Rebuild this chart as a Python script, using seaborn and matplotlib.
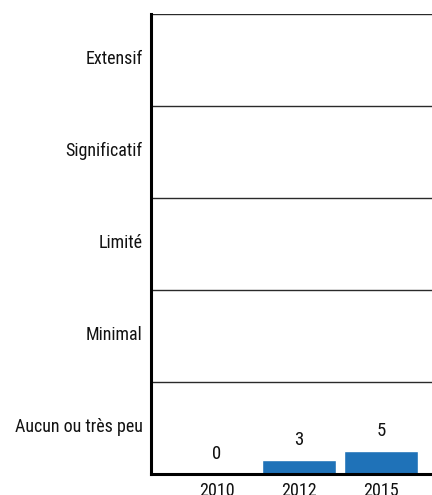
import matplotlib
matplotlib.use("Agg")
import matplotlib.pyplot as plt
import matplotlib.transforms as mtrans
from matplotlib import font_manager as fm
import seaborn as sns
import pandas as pd

# ── Data ──────────────────────────────────────────
years  = ["2010", "2012", "2015"]
values = [0, 3, 5]
levels = ["Aucun ou très peu", "Minimal", "Limité", "Significatif", "Extensif"]
level_centers = [10, 30, 50, 70, 90]
level_bounds  = [20, 40, 60, 80, 100]

df = pd.DataFrame({"year": years, "value": values})

sns.set_style("white")
plt.rcParams["font.family"] = ["DejaVu Sans"]

# ── Pick a condensed face if one is installed ─────
def find_condensed():
    prefs = ["RobotoCondensed-Regular", "LiberationSansNarrow-Regular",
             "DejaVuSansCondensed.ttf", "Condensed-Regular", "Narrow-Regular",
             "Condensed.ttf"]
    files = [f.fname for f in fm.fontManager.ttflist]
    for p in prefs:
        for f in files:
            if p in f.replace(" ", ""):
                return f
    return None

cfile = find_condensed()
if cfile:
    FP = dict(fname=cfile)
    FS = 13
else:
    FP = dict(family="DejaVu Sans")
    FS = 9.5

def fp(size):
    return fm.FontProperties(size=size, **FP)

fig = plt.figure(figsize=(4.32, 4.95), dpi=100)
ax = fig.add_axes([0.3495, 0.0424, 0.6505, 0.9293])

sns.barplot(data=df, x="year", y="value", color="#1f72b8",
            width=0.9, saturation=1, ax=ax)

for i, v in enumerate(values):
    ax.annotate(str(v), (i, v), xytext=(0, 8), textcoords="offset points",
                ha="center", va="bottom", fontproperties=fp(FS + 0.5),
                color="#111111")

ax.set_ylim(0, 100)
ax.set_xlim(-0.8, 2.62)
ax.set_yticks(level_centers)
ax.set_yticklabels(levels, fontproperties=fp(FS), color="#111111")
ax.set_xticks(range(len(years)))
ax.set_xticklabels(years, fontproperties=fp(FS), color="#111111")
ax.set_yticks(level_bounds, minor=True)
ax.grid(False)
ax.grid(True, which="minor", axis="y", color="#2a2a2a", linewidth=1.0)
ax.tick_params(axis="both", which="both", length=0)
ax.tick_params(axis="y", pad=6)
ax.tick_params(axis="x", pad=6)
ax.set_xlabel("")
ax.set_ylabel("")

# labels sit a little above the band centres in the original
shift = mtrans.ScaledTranslation(0, 2.5 / 72, fig.dpi_scale_trans)
for lbl in ax.get_yticklabels():
    lbl.set_transform(lbl.get_transform() + shift)

for s in ["top", "right"]:
    ax.spines[s].set_visible(False)
ax.spines["left"].set_linewidth(2.2)
ax.spines["bottom"].set_linewidth(2.2)
ax.spines["left"].set_color("black")
ax.spines["bottom"].set_color("black")

fig.savefig("out.png", dpi=100)
